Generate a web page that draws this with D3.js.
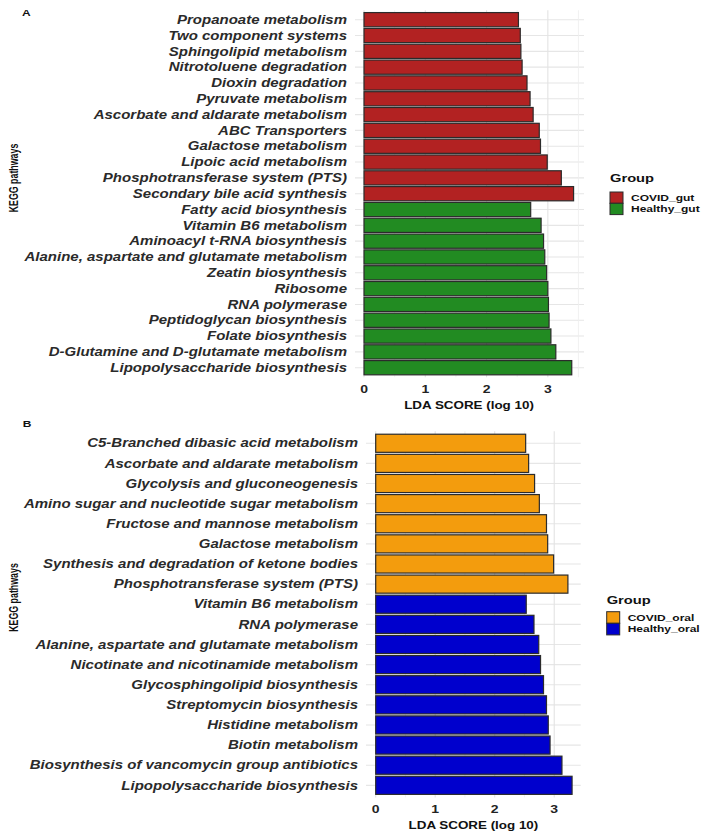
<!DOCTYPE html>
<html><head><meta charset="utf-8">
<script src="https://cdn.jsdelivr.net/npm/d3@7"></script>
<style>
html,body{margin:0;padding:0;background:#fff;}
svg{display:block;font-family:"Liberation Sans",Arial,sans-serif;}
</style></head>
<body><svg id="chart" width="708" height="837"></svg>
<script>
// ---------- Data ----------
const pathwaysA = ["Propanoate metabolism","Two component systems","Sphingolipid metabolism","Nitrotoluene degradation","Dioxin degradation","Pyruvate metabolism","Ascorbate and aldarate metabolism","ABC Transporters","Galactose metabolism","Lipoic acid metabolism","Phosphotransferase system (PTS)","Secondary bile acid synthesis","Fatty acid biosynthesis","Vitamin B6 metabolism","Aminoacyl t-RNA biosynthesis","Alanine, aspartate and glutamate metabolism","Zeatin biosynthesis","Ribosome","RNA polymerase","Peptidoglycan biosynthesis","Folate biosynthesis","D-Glutamine and D-glutamate metabolism","Lipopolysaccharide biosynthesis"];
const scoresA = [2.52,2.55,2.56,2.58,2.66,2.71,2.76,2.86,2.88,2.99,3.22,3.42,2.72,2.89,2.93,2.95,2.98,3.00,3.01,3.02,3.05,3.13,3.39];
const groupsA = ["COVID_gut","COVID_gut","COVID_gut","COVID_gut","COVID_gut","COVID_gut","COVID_gut","COVID_gut","COVID_gut","COVID_gut","COVID_gut","COVID_gut","Healthy_gut","Healthy_gut","Healthy_gut","Healthy_gut","Healthy_gut","Healthy_gut","Healthy_gut","Healthy_gut","Healthy_gut","Healthy_gut","Healthy_gut"];
const legendA = ["COVID_gut","Healthy_gut"];
const coloursA = ["#b22222","#228b22"];

const pathwaysB = ["C5-Branched dibasic acid metabolism","Ascorbate and aldarate metabolism","Glycolysis and gluconeogenesis","Amino sugar and nucleotide sugar metabolism","Fructose and mannose metabolism","Galactose metabolism","Synthesis and degradation of ketone bodies","Phosphotransferase system (PTS)","Vitamin B6 metabolism","RNA polymerase","Alanine, aspartate and glutamate metabolism","Nicotinate and nicotinamide metabolism","Glycosphingolipid biosynthesis","Streptomycin biosynthesis","Histidine metabolism","Biotin metabolism","Biosynthesis of vancomycin group antibiotics","Lipopolysaccharide biosynthesis"];
const scoresB = [2.52,2.57,2.67,2.75,2.87,2.89,2.99,3.23,2.53,2.66,2.74,2.77,2.82,2.87,2.90,2.93,3.13,3.30];
const groupsB = ["COVID_oral","COVID_oral","COVID_oral","COVID_oral","COVID_oral","COVID_oral","COVID_oral","COVID_oral","Healthy_oral","Healthy_oral","Healthy_oral","Healthy_oral","Healthy_oral","Healthy_oral","Healthy_oral","Healthy_oral","Healthy_oral","Healthy_oral"];
const legendB = ["COVID_oral","Healthy_oral"];
const coloursB = ["#f39c0d","#0000cd"];

const ticks = [0,1,2,3];
const minorTicks = [0.5,1.5,2.5,3.5];
const xTitle = "LDA SCORE (log 10)";
const yTitle = "KEGG pathways";
const legendTitle = "Group";

// ---------- Drawing ----------
const svg = d3.select("#chart");
const SY = 0.8; // vertical squash of the original picture

function txt(g, x, y, str, size, opts = {}) {
  const sy = opts.sy || SY;
  return g.append("text")
    .attr("transform", `translate(${x},${y}) scale(1,${sy})` + (opts.rotate ? " rotate(-90)" : ""))
    .attr("font-size", size)
    .attr("font-weight", "bold")
    .attr("font-style", opts.italic ? "italic" : "normal")
    .attr("text-anchor", opts.anchor || "start")
    .attr("dy", opts.dy || "0.35em")
    .attr("fill", opts.fill || "#1a1a1a")
    .text(str);
}

function panel(cfg) {
  const g = svg.append("g");
  const x = d3.scaleLinear().domain(cfg.xDomain).range([cfg.left, cfg.right]);
  const y = d3.scalePoint().domain(cfg.cats).range([cfg.top, cfg.bottom]).padding(0.6);
  const step = y.step();
  const colour = d3.scaleOrdinal().domain(cfg.legend).range(cfg.colours);

  // grid
  g.append("g").selectAll("line").data(cfg.cats).join("line")
    .attr("x1", cfg.left).attr("x2", cfg.right)
    .attr("y1", d => y(d)).attr("y2", d => y(d))
    .attr("stroke", "#e6e6e6").attr("stroke-width", 1.1);
  g.append("g").selectAll("line").data(minorTicks.filter(t => x(t) <= cfg.right)).join("line")
    .attr("x1", d => x(d)).attr("x2", d => x(d))
    .attr("y1", cfg.top).attr("y2", cfg.bottom)
    .attr("stroke", "#efefef").attr("stroke-width", 0.8);
  g.append("g").selectAll("line").data(ticks).join("line")
    .attr("x1", d => x(d)).attr("x2", d => x(d))
    .attr("y1", cfg.top).attr("y2", cfg.bottom)
    .attr("stroke", "#e3e3e3").attr("stroke-width", 1.1);

  // bars
  g.append("g").selectAll("rect").data(cfg.cats).join("rect")
    .attr("x", x(0))
    .attr("y", d => y(d) - step * 0.45)
    .attr("width", (d, i) => x(cfg.scores[i]) - x(0))
    .attr("height", step * 0.9)
    .attr("fill", (d, i) => colour(cfg.groups[i]))
    .attr("stroke", "#2b2b2b").attr("stroke-width", 1.2);

  // category labels
  cfg.cats.forEach(c => txt(g, cfg.labelX, y(c), c, 15, {italic: true, anchor: "end", fill: "#2a2a2a"}));

  // x tick labels
  ticks.forEach(t => txt(g, x(t), cfg.tickY, String(t), 14, {anchor: "middle", fill: "#222"}));
  // x title
  txt(g, cfg.titleX, cfg.titleY, xTitle, 13.4, {anchor: "middle", fill: "#111"});
  // y title
  txt(g, cfg.yTitleX, cfg.yTitleY, yTitle, 13, {anchor: "middle", rotate: true, fill: "#111", sy: 0.68});
  // panel tag
  txt(g, cfg.tagX, cfg.tagY, cfg.tag, 12, {dy: "0", fill: "#111"});

  // legend
  const lg = g.append("g");
  txt(lg, cfg.legX, cfg.legTitleY, legendTitle, 14.7, {fill: "#111"});
  cfg.legend.forEach((k, i) => {
    lg.append("rect")
      .attr("x", cfg.legX).attr("y", cfg.legKeyY + i * cfg.keyH)
      .attr("width", 13).attr("height", cfg.keyH)
      .attr("fill", colour(k)).attr("stroke", "#2b2b2b").attr("stroke-width", 1);
    txt(lg, cfg.legX + 21, cfg.legKeyY + (i + 0.5) * cfg.keyH, k, 12, {fill: "#111"});
  });
}

panel({
  cats: pathwaysA, scores: scoresA, groups: groupsA, legend: legendA, colours: coloursA,
  xDomain: [-0.147, 3.59], left: 355, right: 584, top: 10.2, bottom: 377.2,
  labelX: 347, tickY: 389, titleX: 469, titleY: 405, yTitleX: 13, yTitleY: 178,
  tag: "A", tagX: 22, tagY: 15.7,
  legX: 610, legTitleY: 178, legKeyY: 192, keyH: 11.3
});

panel({
  cats: pathwaysB, scores: scoresB, groups: groupsB, legend: legendB, colours: coloursB,
  xDomain: [-0.163, 3.445], left: 366, right: 580.7, top: 431.2, bottom: 797.4,
  labelX: 358, tickY: 809, titleX: 473.4, titleY: 825, yTitleX: 13, yTitleY: 597.5,
  tag: "B", tagX: 22.7, tagY: 426.7,
  legX: 606.7, legTitleY: 600, legKeyY: 611.7, keyH: 11.6
});
</script></body></html>
